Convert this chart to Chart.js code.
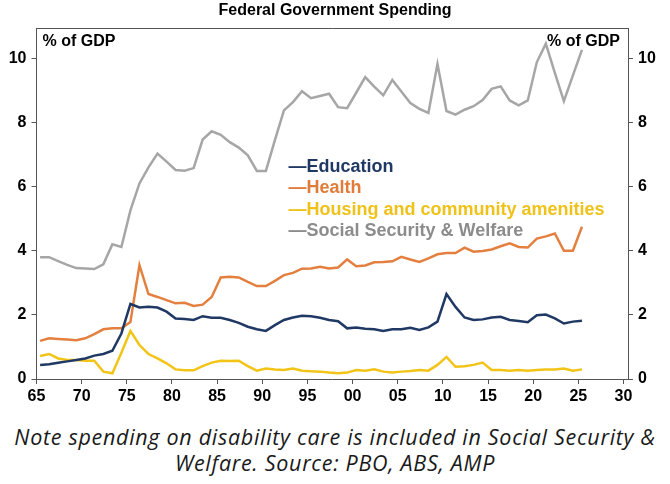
<!DOCTYPE html>
<html>
<head>
<meta charset="utf-8">
<script src="https://cdn.jsdelivr.net/npm/chart.js@4.4.0/dist/chart.umd.min.js"></script>
<style>
  body { margin: 0; background: #fff; width: 670px; height: 484px; overflow: hidden; }
  #wrap { position: relative; width: 670px; height: 410px; }
  #note {
    margin-top: 14px;
    font-family: "Open Sans", "Noto Sans", sans-serif;
    font-style: italic;
    font-size: 21.5px;
    letter-spacing: 0.7px;
    line-height: 26px;
    text-align: center;
    white-space: nowrap;
    color: #1a1a1a;
  }
</style>
</head>
<body>
<div id="wrap"><canvas id="chart" width="670" height="410"></canvas></div>
<div id="note">Note spending on disability care is included in Social Security &amp;<br>Welfare. Source: PBO, ABS, AMP</div>
<script>
// financial years 1965 .. 2025
const years = Array.from({ length: 61 }, (_, i) => 1965 + i);

const education = [0.44, 0.46, 0.51, 0.55, 0.59, 0.64, 0.73, 0.78, 0.88, 1.42,
    2.34, 2.23, 2.25, 2.23, 2.1, 1.89, 1.87, 1.84, 1.96, 1.91,
    1.91, 1.84, 1.75, 1.63, 1.55, 1.5, 1.68, 1.84, 1.92, 1.97,
    1.96, 1.91, 1.84, 1.8, 1.58, 1.61, 1.57, 1.55, 1.5, 1.55,
    1.55, 1.6, 1.53, 1.61, 1.79, 2.65, 2.25, 1.92, 1.84, 1.86,
    1.92, 1.94, 1.84, 1.81, 1.77, 1.99, 2.01, 1.89, 1.73, 1.79, 1.82];

const health = [1.19, 1.27, 1.25, 1.23, 1.21, 1.27, 1.4, 1.55, 1.58, 1.58,
    1.78, 3.55, 2.65, 2.56, 2.46, 2.36, 2.38, 2.28, 2.32, 2.56,
    3.17, 3.19, 3.17, 3.03, 2.9, 2.9, 3.06, 3.24, 3.31, 3.44,
    3.45, 3.5, 3.45, 3.48, 3.73, 3.52, 3.54, 3.64, 3.65, 3.67,
    3.81, 3.73, 3.65, 3.76, 3.89, 3.93, 3.93, 4.1, 3.97, 3.99,
    4.04, 4.14, 4.23, 4.12, 4.1, 4.38, 4.45, 4.54, 4.0, 4.0, 4.75];

const housing = [0.72, 0.78, 0.64, 0.59, 0.59, 0.57, 0.57, 0.23, 0.18, 0.82,
    1.5, 1.06, 0.78, 0.64, 0.49, 0.3, 0.27, 0.27, 0.4, 0.51,
    0.57, 0.56, 0.57, 0.4, 0.26, 0.33, 0.3, 0.28, 0.33, 0.26,
    0.24, 0.23, 0.2, 0.18, 0.2, 0.28, 0.26, 0.3, 0.23, 0.2,
    0.23, 0.25, 0.28, 0.26, 0.44, 0.69, 0.38, 0.4, 0.44, 0.51,
    0.28, 0.28, 0.26, 0.28, 0.26, 0.28, 0.3, 0.3, 0.33, 0.26, 0.3];

const socialSecurity = [3.8, 3.8, 3.68, 3.56, 3.46, 3.45, 3.43, 3.58, 4.2, 4.12,
    5.26, 6.1, 6.6, 7.03, 6.78, 6.52, 6.5, 6.58, 7.47, 7.73,
    7.62, 7.39, 7.22, 6.98, 6.49, 6.49, 7.45, 8.38, 8.64, 8.98,
    8.76, 8.83, 8.9, 8.48, 8.45, 8.93, 9.42, 9.12, 8.85, 9.33,
    8.97, 8.61, 8.43, 8.3, 9.83, 8.36, 8.25, 8.4, 8.51, 8.7,
    9.05, 9.13, 8.69, 8.54, 8.69, 9.88, 10.46, 9.55, 8.67, 9.47, 10.27];

const seriesNames = ['Education', 'Health', 'Housing and community amenities', 'Social Security & Welfare'];
const xTicks = [1965, 1970, 1975, 1980, 1985, 1990, 1995, 2000, 2005, 2010, 2015, 2020, 2025, 2030];
const yTicks = [0, 2, 4, 6, 8, 10];

const chartTitle = 'Federal Government Spending';
const unitLabel = '% of GDP';

const lineColors = ['#1f3864', '#e4803f', '#f2c417', '#a6a6a6'];
const textColors = ['#1f3864', '#e07b3a', '#efc21a', '#8c8c8c'];
const axisColor = '#555';
const fontFamily = '"Liberation Sans", Arial, sans-serif';

// points sit at the middle of each financial year
const toPoints = values => values.map((v, i) => ({ x: years[i] + 0.4, y: v }));

const frameAndText = {
    id: 'frameAndText',
    afterDraw(chart) {
        const { ctx, chartArea: a } = chart;
        ctx.save();
        ctx.strokeStyle = axisColor;
        ctx.lineWidth = 1;
        ctx.beginPath();
        ctx.moveTo(a.left, a.top + 0.5);
        ctx.lineTo(a.right, a.top + 0.5);
        ctx.stroke();

        ctx.fillStyle = '#000';
        ctx.textBaseline = 'middle';
        ctx.font = 'bold 16px ' + fontFamily;
        ctx.textAlign = 'center';
        ctx.fillText(chartTitle, chart.width / 2, 11);

        ctx.textAlign = 'left';
        ctx.fillText(unitLabel, a.left + 6, a.top + 14);
        ctx.textAlign = 'right';
        ctx.fillText(unitLabel, a.right - 8, a.top + 14);

        // legend: coloured dash + label
        ctx.font = 'bold 18px ' + fontFamily;
        ctx.textAlign = 'left';
        seriesNames.forEach((name, i) => {
            ctx.fillStyle = textColors[i];
            ctx.fillText('\u2014' + name, a.left + 252, a.top + 139 + i * 21.5);
        });
        ctx.restore();
    }
};

const gridOpts = { display: true, drawOnChartArea: false, drawTicks: true, tickLength: 5, color: axisColor };
const borderOpts = { display: true, color: axisColor, width: 1 };
const tickFont = { family: fontFamily, size: 16, weight: 'bold' };

new Chart(document.getElementById('chart'), {
    type: 'line',
    data: {
        datasets: [education, health, housing, socialSecurity].map((vals, i) => ({
            label: seriesNames[i],
            data: toPoints(vals),
            borderColor: lineColors[i],
            backgroundColor: lineColors[i],
            borderWidth: 2.5,
            pointRadius: 0,
            tension: 0,
            fill: false
        }))
    },
    options: {
        responsive: false,
        animation: false,
        layout: { padding: { top: 28, left: 0, right: 0, bottom: 0 } },
        plugins: {
            legend: { display: false },
            title: { display: false },
            tooltip: { enabled: false }
        },
        scales: {
            x: {
                type: 'linear',
                min: 1965,
                max: 2030.5,
                grid: gridOpts,
                border: borderOpts,
                afterBuildTicks: s => { s.ticks = xTicks.map(v => ({ value: v })); },
                afterFit: s => { s.height = 31; },
                ticks: {
                    autoSkip: false,
                    maxRotation: 0,
                    padding: 3,
                    color: '#000',
                    font: tickFont,
                    callback: v => String(v % 100).padStart(2, '0')
                }
            },
            y: {
                position: 'left',
                min: 0,
                max: 10.95,
                grid: gridOpts,
                border: borderOpts,
                afterBuildTicks: s => { s.ticks = yTicks.map(v => ({ value: v })); },
                afterFit: s => { s.width = 36.5; },
                ticks: { padding: 5, color: '#000', font: tickFont }
            },
            y2: {
                position: 'right',
                min: 0,
                max: 10.95,
                grid: gridOpts,
                border: borderOpts,
                afterBuildTicks: s => { s.ticks = yTicks.map(v => ({ value: v })); },
                afterFit: s => { s.width = 42; },
                ticks: { padding: 5, color: '#000', font: tickFont }
            }
        }
    },
    plugins: [frameAndText]
});
</script>
</body>
</html>
